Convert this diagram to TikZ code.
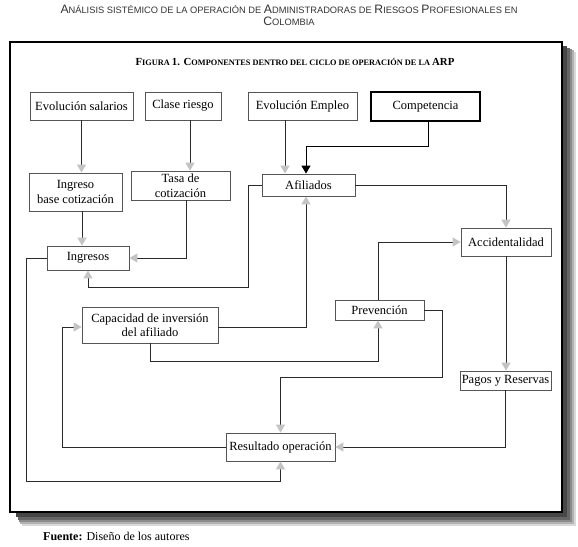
\documentclass[tikz,border=0pt]{standalone}
\usepackage{fontspec}
\setmainfont{Liberation Serif}
\newfontfamily\hdrsans{Liberation Sans}
\usetikzlibrary{arrows.meta,calc}
\definecolor{tipgray}{HTML}{C4C4C4}
\definecolor{linec}{HTML}{2A2A2A}
\definecolor{boxc}{HTML}{555555}
\newcommand\hcA{\fontsize{12.2}{14}\selectfont}
\newcommand\hcB{\fontsize{9.3}{14}\selectfont}
\newcommand\fcA{\fontsize{10.8}{12}\selectfont}
\newcommand\fcB{\fontsize{8.3}{12}\selectfont}
\begin{document}
\begin{tikzpicture}[x=1pt,y=-1pt,
  box/.style={draw=boxc,line width=0.8pt,fill=white,inner sep=1pt,align=center,
    font=\fontsize{12.5}{14.5}\selectfont},
  conn/.style={draw=linec,line width=1pt,-{Triangle[length=8pt,width=9pt,color=tipgray]}},
  connb/.style={draw=black,line width=1pt,-{Triangle[length=8pt,width=9pt,color=black]}}]
\useasboundingbox (0,0) rectangle (578,546);
% shadow
\fill[black!15] (22,52) rectangle (576,526);
\fill[black!30] (20,50) rectangle (574,524);
\fill[black!45] (19,49) rectangle (572,522);
\fill[black!60] (18,48) rectangle (570,520);
\fill[black!72] (16,46) rectangle (567,517);
% frame
\draw[line width=1.8pt,fill=white] (10,42) rectangle (562,512);
% headings
\node[align=center,font=\hdrsans,text=black!80] (hdr) at (289,15)
  {{\hcA A}{\hcB NÁLISIS SISTÉMICO DE LA OPERACIÓN DE }{\hcA A}{\hcB DMINISTRADORAS DE }{\hcA R}{\hcB IESGOS }{\hcA P}{\hcB ROFESIONALES EN}\\
   {\hcA C}{\hcB OLOMBIA}};
\node[font=\bfseries] (fig) at (295,62)
  {{\fcA F}{\fcB IGURA }{\fcA 1. C}{\fcB OMPONENTES DENTRO DEL CICLO DE OPERACIÓN DE LA }{\fcA ARP}};
\node[anchor=base west,inner sep=0pt,font=\fontsize{12}{14}\selectfont] (src) at (43,540) {\textbf{Fuente:} Diseño de los autores};
% nodes
\node[box,minimum width=103,minimum height=28] (sal) at (81.5,106) {Evolución salarios};
\node[box,minimum width=76,minimum height=28] (clase) at (183,106) {Clase riesgo};
\node[box,minimum width=109,minimum height=28] (empleo) at (302.5,106) {Evolución Empleo};
\node[box,draw=black,line width=1.3pt,minimum width=109,minimum height=29] (comp) at (425.5,106.5) {Competencia};
\node[box,minimum width=93,minimum height=38] (ibc) at (75.5,192) {Ingreso\\base cotización};
\node[box,minimum width=99,minimum height=29] (tasa) at (180.5,185.5) {Tasa de\\cotización};
\node[box,minimum width=93,minimum height=22] (afil) at (308.5,185) {Afiliados};
\node[box,minimum width=82,minimum height=24] (ingr) at (88,258) {Ingresos};
\node[box,minimum width=90,minimum height=28] (acc) at (506,242) {Accidentalidad};
\node[box,minimum width=136,minimum height=36] (cap) at (150,325) {Capacidad de inversión\\del afiliado};
\node[box,minimum width=89,minimum height=20] (prev) at (379.5,310) {Prevención};
\node[box,minimum width=91,minimum height=19] (pagos) at (505.5,380.5) {Pagos y Reservas};
\node[box,minimum width=109,minimum height=28] (res) at (280.5,447) {Resultado operación};
% connectors
\draw[conn] (sal.south) -- (sal.south |- ibc.north);
\draw[conn] ([xshift=7pt]clase.south) -- ([xshift=7pt]clase.south |- tasa.north);
\draw[conn] ([xshift=6.5pt]ibc.south) -- ([xshift=6.5pt]ibc.south |- ingr.north);
\draw[conn] ([xshift=5.5pt]tasa.south) |- (ingr.east);
\draw[conn] ([xshift=-17.5pt]empleo.south) -- ([xshift=-17.5pt]empleo.south |- afil.north);
\draw[connb] ([xshift=2.5pt]comp.south) -- ++(0,25) -| ([xshift=-2.5pt]afil.north);
\draw[conn] (afil.east) -| (acc.north);
\draw[conn] (afil.west) -- ++(-13,0) -- ++(0,102) -| (ingr.south);
\draw[conn] ([yshift=-2pt]cap.east) -| ([xshift=-2.5pt]afil.south);
\draw[conn] (cap.south) -- ++(0,18) -| ([xshift=-1.5pt]prev.south);
\draw[conn] ([xshift=-1.5pt]prev.north) |- (acc.west);
\draw[conn] (prev.east) -- ++(18,0) -- ++(0,67) -| (res.north);
\draw[conn] (acc.south) -- (acc.south |- pagos.north);
\draw[conn] (pagos.south) |- (res.east);
\draw[conn] (res.west) -- ++(-163,0) |- ([yshift=-2pt]cap.west);
\draw[conn] (ingr.west) -- ++(-20,0) -- ++(0,223) -| (res.south);
\end{tikzpicture}
\end{document}
